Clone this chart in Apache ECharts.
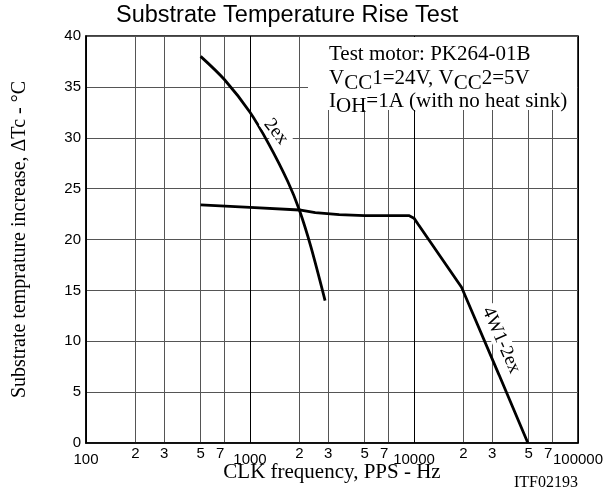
<!DOCTYPE html>
<html>
<head>
<meta charset="utf-8">
<title>Substrate Temperature Rise Test</title>
<script src="https://cdn.jsdelivr.net/npm/echarts@6/dist/echarts.min.js"></script>
<style>
  html, body { margin: 0; padding: 0; background: #fff; }
  #chart { width: 606px; height: 498px; }
</style>
</head>
<body>
<div id="chart"></div>
<script type="text/javascript">
// x ticks on the log frequency axis (Hz) and what is printed under them
var xTickHz = [100, 200, 300, 500, 700, 1000, 2000, 3000, 5000, 7000, 10000, 20000, 30000, 50000, 70000, 100000];
var xTickText = ['100', '2', '3', '5', '7', '1000', '2', '3', '5', '7', '10000', '2', '3', '5', '7', '100000'];

// 2ex curve
var hz2ex = [500, 700, 1000, 1300, 1700, 2000, 2350, 2870];
var temp2ex = [38.0, 35.7, 32.5, 29.4, 25.7, 22.9, 19.3, 14.0];

// 4W1-2ex curve
var hz4w = [500, 1000, 2000, 2500, 3500, 5000, 9300, 10000, 10600, 19500, 23000, 33000, 49500];
var temp4w = [23.4, 23.15, 22.9, 22.65, 22.45, 22.35, 22.35, 22.1, 21.5, 15.3, 12.6, 6.7, 0];

function pairs(xs, ys) {
  var out = [];
  for (var i = 0; i < xs.length; i++) out.push([xs[i], ys[i]]);
  return out;
}

var tickLog = xTickHz.map(function (v) { return Math.log10(v); });

function tickLabel(v) {
  var best = 0;
  for (var i = 1; i < tickLog.length; i++) {
    if (Math.abs(tickLog[i] - v) < Math.abs(tickLog[best] - v)) best = i;
  }
  var t = xTickText[best];
  if (t.length > 1) return '{dec|' + t + '}';
  if (t === '7') return '{sev|' + t + '}';
  return t;
}

var serif = '"Liberation Serif", "DejaVu Serif", serif';
var sans = '"Liberation Sans", Arial, sans-serif';

var myChart = echarts.init(document.getElementById('chart'));

var subStyle = { padding: [11, 0, 0, 0], fontFamily: serif, fontSize: 21, fill: '#000' };

var option = {
  animation: false,
  backgroundColor: '#fff',
  title: {
    text: 'Substrate Temperature Rise Test',
    left: 116,
    top: 4,
    padding: 0,
    textStyle: { fontFamily: sans, fontSize: 23.5, fontWeight: 'normal', color: '#000' }
  },
  grid: {
    left: 86, right: 28, top: 36, bottom: 55,
    show: true, borderColor: '#000', borderWidth: 1.5, backgroundColor: 'transparent'
  },
  xAxis: [
    {
      // data axis
      type: 'log',
      logBase: 10,
      min: 100,
      max: 100000,
      show: false
    },
    {
      // grid / label axis in log10 space
      type: 'value',
      min: 2,
      max: 5,
      position: 'bottom',
      name: 'CLK frequency, PPS - Hz',
      nameLocation: 'middle',
      nameGap: 19,
      nameMoveOverlap: false,
      nameTextStyle: { fontFamily: serif, fontSize: 21, color: '#000' },
      axisLine: { show: true, lineStyle: { color: '#000', width: 1.5 } },
      axisTick: { show: false, customValues: tickLog },
      axisLabel: {
        customValues: tickLog,
        formatter: tickLabel,
        margin: 3,
        color: '#000',
        fontFamily: sans,
        fontSize: 15,
        rich: {
          dec: { padding: [6, 0, 0, 0], fontFamily: sans, fontSize: 15, color: '#000' },
          sev: { padding: [0, 9, 0, 0], fontFamily: sans, fontSize: 15, color: '#000' }
        }
      },
      splitLine: {
        show: true,
        lineStyle: { color: ['#000', '#555', '#555', '#555', '#555'], width: 1 }
      }
    }
  ],
  yAxis: {
    type: 'value',
    min: 0,
    max: 40,
    interval: 5,
    name: 'Substrate temprature increase, \u0394Tc - \u00b0C',
    nameLocation: 'middle',
    nameGap: 56,
    nameMoveOverlap: false,
    nameTextStyle: { fontFamily: serif, fontSize: 20, color: '#000' },
    axisLine: { show: true, lineStyle: { color: '#000', width: 1.5 } },
    axisTick: { show: false },
    axisLabel: { margin: 5, color: '#000', fontFamily: sans, fontSize: 15 },
    splitLine: { show: true, lineStyle: { color: '#555', width: 1 } }
  },
  series: [
    {
      name: '2ex',
      type: 'line',
      xAxisIndex: 0,
      data: pairs(hz2ex, temp2ex),
      smooth: 0.3,
      showSymbol: false,
      lineStyle: { color: '#000', width: 2.8 },
      markPoint: {
        symbol: 'circle',
        symbolSize: 1,
        itemStyle: { color: 'rgba(0,0,0,0)' },
        label: {
          show: true,
          position: 'inside',
          formatter: '2ex',
          rotate: -52,
          backgroundColor: '#fff',
          padding: [0, 2],
          fontFamily: serif,
          fontSize: 19,
          color: '#000'
        },
        data: [{ coord: [1440, 30.6] }]
      }
    },
    {
      name: '4W1-2ex',
      type: 'line',
      xAxisIndex: 0,
      data: pairs(hz4w, temp4w),
      showSymbol: false,
      lineStyle: { color: '#000', width: 2.8 },
      markPoint: {
        symbol: 'circle',
        symbolSize: 1,
        itemStyle: { color: 'rgba(0,0,0,0)' },
        label: {
          show: true,
          position: 'inside',
          formatter: '4W1-2ex',
          rotate: -66,
          backgroundColor: '#fff',
          padding: [0, 2],
          fontFamily: serif,
          fontSize: 19,
          color: '#000'
        },
        data: [{ coord: [34000, 10.1] }]
      }
    }
  ],
  graphic: [
    {
      type: 'group',
      z: 100,
      children: [
        { type: 'rect', z: 100, shape: { x: 308, y: 37, width: 269, height: 73 }, style: { fill: '#fff' } },
        {
          type: 'text', z: 101, x: 329, y: 54,
          style: { text: 'Test motor: PK264-01B', fontFamily: serif, fontSize: 21, fill: '#000', verticalAlign: 'middle' }
        },
        {
          type: 'text', z: 101, x: 329, y: 78,
          style: {
            text: 'V{sub|CC}1=24V, V{sub|CC}2=5V',
            fontFamily: serif, fontSize: 21, fill: '#000', verticalAlign: 'middle',
            rich: { sub: subStyle }
          }
        },
        {
          type: 'text', z: 101, x: 329, y: 101,
          style: {
            text: 'I{sub|OH}=1A (with no heat sink)',
            fontFamily: serif, fontSize: 21, fill: '#000', verticalAlign: 'middle',
            rich: { sub: subStyle }
          }
        }
      ]
    },
    {
      type: 'text', right: 28, top: 475,
      style: { text: 'ITF02193', fontFamily: serif, fontSize: 16, fill: '#000' }
    }
  ]
};

myChart.setOption(option);
</script>
</body>
</html>
